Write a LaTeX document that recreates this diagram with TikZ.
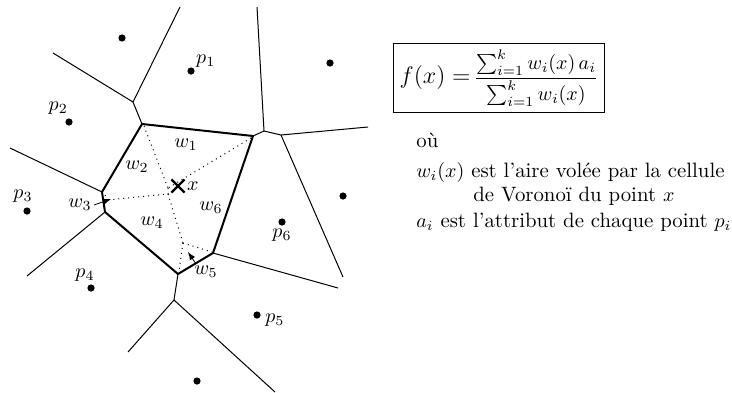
\documentclass[tikz,border=0pt]{standalone}
\usepackage{amsmath}
\usetikzlibrary{arrows.meta}
\usetikzlibrary{shapes.misc}
\usetikzlibrary{positioning}

\begin{document}
\begin{tikzpicture}[
    x=0.5pt, y=-0.5pt,
    >=latex
  ]

  % Styles
  \tikzset{
    site/.style={circle, fill=black, inner sep=0pt, minimum size=3.6pt},
    lbl/.style={inner sep=1pt},
    edge/.style={line width=0.5pt},
    cell/.style={line width=1pt, line join=round},
    old/.style={line width=0.5pt, dotted},
    qpt/.style={cross out, draw, line width=1.1pt, minimum size=5.5pt, inner sep=0pt},
    legend/.style={anchor=base west, inner sep=0pt, font=\fontsize{10.4pt}{12.5pt}\selectfont}
  }

  \useasboundingbox (0,0) rectangle (732,392);

  % Sites
  \node (s1) [site] at (122,38) {};
  \node (p1) [site] at (191,71) {};
  \node (s2) [site] at (330,63) {};
  \node (p2) [site] at (69,122) {};
  \node (s3) [site] at (343,196) {};
  \node (p3) [site] at (27,211) {};
  \node (p6) [site] at (282,222) {};
  \node (p4) [site] at (91,288) {};
  \node (p5) [site] at (257,315) {};
  \node (s4) [site] at (197,381) {};

  \node (p1lab) [lbl, above right=-1pt and 0pt of p1] {$p_1$};
  \node (p2lab) [lbl, above left=1pt and -2pt of p2] {$p_2$};
  \node (p3lab) [lbl, above=1pt of p3, xshift=-2pt] {$p_3$};
  \node (p4lab) [lbl, above=0pt of p4, xshift=-3pt] {$p_4$};
  \node (p5lab) [lbl, right=1pt of p5, yshift=-2.5pt] {$p_5$};
  \node (p6lab) [lbl, below=0pt of p6] {$p_6$};

  % Voronoi vertices
  \coordinate (va) at (142,124);
  \coordinate (vb) at (253,136);
  \coordinate (vc) at (213,253);
  \coordinate (vd) at (178,274);
  \coordinate (ve) at (105,212);
  \coordinate (vf) at (102,192);
  \coordinate (v1) at (133,102);
  \coordinate (v2) at (264,131);
  \coordinate (v3) at (281,135);
  \coordinate (v4) at (174,300);
  % free ends
  \coordinate (e1) at (180,7);
  \coordinate (e2) at (53,53);
  \coordinate (e3) at (257,7);
  \coordinate (e4) at (368,127);
  \coordinate (e5) at (343,277);
  \coordinate (e6) at (10,148);
  \coordinate (e7) at (27,276);
  \coordinate (e8) at (338,288);
  \coordinate (e9) at (128,352);
  \coordinate (e10) at (275,392);

  % Thin edges
  \draw[edge] (e1) -- (v1) -- (e2);
  \draw[edge] (v1) -- (va);
  \draw[edge] (vb) -- (v2) -- (e3);
  \draw[edge] (v2) -- (v3) -- (e4);
  \draw[edge] (v3) -- (e5);
  \draw[edge] (vf) -- (e6);
  \draw[edge] (ve) -- (e7);
  \draw[edge] (vc) -- (e8);
  \draw[edge] (vd) -- (v4) -- (e9);
  \draw[edge] (v4) -- (e10);

  % Cell of x
  \draw[cell] (va) -- (vb) -- (vc) -- (vd) -- (ve) -- (vf) -- cycle;

  % Old edges inside the cell
  \coordinate (h1) at (168,188);
  \coordinate (h2) at (168,194);
  \coordinate (h3) at (183,243);
  \coordinate (h4) at (108,200);
  \draw[old] (144,126) -- (h1);
  \draw[old] (251,138) -- (h1);
  \draw[old] (h1) -- (h2) -- (h4);
  \draw[old] (h2) -- (h3);
  \draw[old] (h3) -- (212,252);
  \draw[old] (h3) -- (179,271);
  \draw[old] (105,195) -- (109,204);

  % New point
  \node (xq) [qpt] at (178,186) {};
  \node (xlab) [lbl, right=0pt of xq] {$x$};

  % Stolen areas
  \node (w1) [lbl] at (186,145) {$w_1$};
  \node (w2) [lbl] at (137,167) {$w_2$};
  \node (w3) [lbl] at (80,205) {$w_3$};
  \node (w4) [lbl] at (152,223) {$w_4$};
  \node (w5) [lbl] at (206,272) {$w_5$};
  \node (w6) [lbl] at (211,208) {$w_6$};
  \coordinate (w3tip) at (111,199);
  \coordinate (w5tip) at (188,252);
  \draw[->] (w3.east) -- (w3tip);
  \draw[->] ([xshift=2pt]w5.north west) -- (w5tip);

  % Formula and legend
  \node (formula) [draw, line width=0.5pt, inner xsep=3pt, inner ysep=3pt] at (499,78)
    {{\large$f(x)=$}\,$\displaystyle\frac{\sum_{i=1}^{k} w_i(x)\,a_i}{\sum_{i=1}^{k} w_i(x)}$};
  \node (ou)    [legend] at (416,147) {où};
  \node (wdef)  [legend] at (416,177) {$w_i(x)$ est l'aire volée par la cellule};
  \node (wcont) [legend] at (473,201) {de Voronoï du point $x$};
  \node (adef)  [legend] at (416,227) {$a_i$ est l'attribut de chaque point $p_i$};

\end{tikzpicture}
\end{document}
